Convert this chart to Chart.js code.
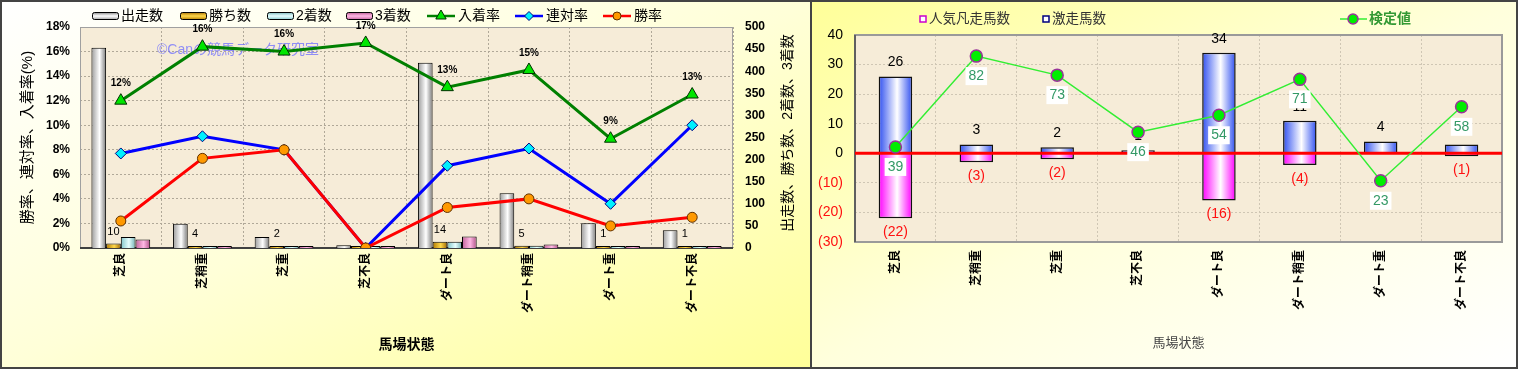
<!DOCTYPE html>
<html lang="ja">
<head>
<meta charset="utf-8">
<title>馬場状態別成績</title>
<script src="https://cdn.jsdelivr.net/npm/chart.js@4.4.1/dist/chart.umd.min.js"></script>
<style>
  html, body { margin: 0; padding: 0; background: #fff; }
  body { width: 1518px; height: 369px; position: relative; overflow: hidden; }
  .panel { position: absolute; top: 0; height: 369px; box-sizing: border-box; border: 2px solid #444; }
  #leftPanel  { left: 0; width: 812px; background: linear-gradient(to bottom right, #ffffff 0%, #ffffd8 50%, #ffff99 100%); }
  #rightPanel { left: 810px; width: 708px; background: linear-gradient(to bottom right, #ffff99 0%, #ffffdc 50%, #ffffff 100%); }
  canvas { display: block; }
</style>
</head>
<body>
<div class="panel" id="leftPanel"><canvas id="runChart" width="808" height="365"></canvas></div>
<div class="panel" id="rightPanel"><canvas id="testChart" width="704" height="365"></canvas></div>
<script>
/* ── data ── */
const tracks = ['芝良', '芝稍重', '芝重', '芝不良', 'ダート良', 'ダート稍重', 'ダート重', 'ダート不良'];

// left chart: counts (right axis) and rates in % (left axis)
const runs   = [453, 55, 25, 6, 419, 124, 56, 40];
const wins   = [10, 4, 2, 0, 14, 5, 1, 1];
const second = [25, 1, 0, 0, 14, 5, 1, 3];
const third  = [19, 4, 2, 1, 26, 8, 3, 1];
const placeRate    = [12.0, 16.4, 16.0, 16.7, 13.1, 14.5, 8.9, 12.5];
const quinellaRate = [7.7, 9.1, 8.0, 0, 6.7, 8.1, 3.6, 10.0];
const winRate      = [2.2, 7.3, 8.0, 0, 3.3, 4.0, 1.8, 2.5];
const rateTicks  = [0, 2, 4, 6, 8, 10, 12, 14, 16, 18];
const countTicks = [0, 50, 100, 150, 200, 250, 300, 350, 400, 450, 500];

// right chart
const popularFail = [-22, -3, -2, 0, -16, -4, 0, -1];
const surprise    = [26, 3, 2, 1, 34, 11, 4, 3];
const testValue   = [39, 82, 73, 46, 54, 71, 23, 58];
const diffTicks   = [-30, -20, -10, 0, 10, 20, 30, 40];

/* ── common ── */
const FONT = '"Liberation Sans", "Noto Sans CJK JP", sans-serif';
Chart.defaults.font.family = FONT;
Chart.defaults.color = '#000';
const GRID = '#b0a898';

const silver  = ['#9a9a9a', '#ffffff', '#7a7a7a'];
const gold    = ['#b07800', '#ffd84a', '#a06800'];
const aqua    = ['#80c4c8', '#e8ffff', '#70b0b4'];
const pink    = ['#c0609a', '#ffb8e4', '#b05088'];
const blueBar = ['#3050f0', '#ffffff', '#3050f0'];
const magBar  = ['#ff00ff', '#ffffff', '#ff00ff'];

function hGrad(ctx, left, w, stops) {
  const g = ctx.createLinearGradient(left, 0, left + w, 0);
  g.addColorStop(0, stops[0]);
  g.addColorStop(0.55, stops[1]);
  g.addColorStop(1, stops[2]);
  return g;
}

// horizontal gradient per bar, position worked out from the x scale
function barFill(stops, slotCount, slot) {
  return c => {
    const chart = c.chart, x = chart.scales.x;
    if (c.type !== 'data' || !x || !chart.chartArea) return stops[1];
    const ds = chart.options.datasets.bar;
    const cat = x.width / chart.data.labels.length;
    const center = x.getPixelForValue(c.dataIndex);
    let left, w;
    if (slotCount) {
      const group = cat * ds.categoryPercentage;
      w = group / slotCount * ds.barPercentage;
      left = center - group / 2 + group / slotCount * slot;
    } else {
      w = cat * ds.categoryPercentage * ds.barPercentage;
      left = center - w / 2;
    }
    return hGrad(chart.ctx, left, w, stops);
  };
}

function tickList(arr) {
  return s => { s.ticks = arr.map(v => ({ value: v })); };
}

function drawText(ctx, txt, x, y, font, color, align) {
  ctx.font = font;
  ctx.fillStyle = color;
  ctx.textAlign = align || 'center';
  ctx.textBaseline = 'middle';
  ctx.fillText(txt, x, y);
}

/* ── left chart plugin ── */
const runDecor = {
  id: 'runDecor',
  beforeDraw(chart) {
    const { ctx, chartArea: a } = chart;
    ctx.save();
    ctx.fillStyle = '#f6ecd8';
    ctx.fillRect(a.left, a.top, a.width, a.height);
    ctx.restore();
  },
  beforeDatasetsDraw(chart) {
    const { ctx, chartArea: a } = chart;
    ctx.save();
    ctx.strokeStyle = '#a0a0a0'; ctx.lineWidth = 1;
    ctx.strokeRect(a.left + 0.5, a.top + 0.5, a.width - 1, a.height - 1);
    ctx.strokeStyle = '#404040'; ctx.lineWidth = 2;
    ctx.beginPath(); ctx.moveTo(a.left, a.bottom); ctx.lineTo(a.right, a.bottom); ctx.stroke();
    drawText(ctx, '©Canの競馬データ研究室', 155, 48, '14px ' + FONT, 'rgba(110,110,255,0.75)', 'left');
    ctx.restore();
  },
  afterDatasetsDraw(chart) {
    const ctx = chart.ctx;
    ctx.save();
    chart.getDatasetMeta(1).data.forEach((el, i) => {
      if (wins[i] > 0) drawText(ctx, String(wins[i]), el.x, el.y - 12, '11px ' + FONT, '#000');
    });
    chart.getDatasetMeta(4).data.forEach((el, i) => {
      drawText(ctx, Math.round(placeRate[i]) + '%', el.x, el.y - 17, 'bold 10px ' + FONT, '#000');
    });
    ctx.restore();
  },
  afterDraw(chart) {
    const ctx = chart.ctx;
    const lx = [90, 178, 265, 344, 425, 513, 601];
    const ly = 14;
    ctx.save();
    chart.data.datasets.forEach((ds, i) => {
      const x = lx[i];
      if (ds.type === 'line') {
        ctx.strokeStyle = ds.borderColor; ctx.lineWidth = 2.5;
        ctx.beginPath(); ctx.moveTo(x, ly); ctx.lineTo(x + 28, ly); ctx.stroke();
        ctx.fillStyle = ds.pointBackgroundColor; ctx.strokeStyle = ds.pointBorderColor; ctx.lineWidth = 1;
        Chart.helpers.drawPoint(ctx, { pointStyle: ds.pointStyle, radius: ds.pointRadius - 1, borderWidth: 1, rotation: 0 }, x + 14, ly);
        drawText(ctx, ds.label, x + 31, ly, '14px ' + FONT, '#000', 'left');
      } else {
        const g = ctx.createLinearGradient(0, ly - 4, 0, ly + 4);
        g.addColorStop(0, ds.stops[2]); g.addColorStop(0.5, ds.stops[1]); g.addColorStop(1, ds.stops[0]);
        ctx.fillStyle = g; ctx.strokeStyle = '#000'; ctx.lineWidth = 1;
        ctx.beginPath(); ctx.roundRect(x + 0.5, ly - 3.5, 26, 7, 2); ctx.fill(); ctx.stroke();
        drawText(ctx, ds.label, x + 29, ly, '14px ' + FONT, '#000', 'left');
      }
    });
    // right axis title, reading bottom to top
    ctx.translate(786, 131);
    ctx.rotate(-Math.PI / 2);
    drawText(ctx, '出走数、勝ち数、2着数、3着数', 0, 0, '14px ' + FONT, '#000');
    ctx.restore();
  }
};

const barCommon = { yAxisID: 'y1', borderColor: '#000', borderWidth: 1, minBarLength: 2, order: 10 };

new Chart(document.getElementById('runChart'), {
  type: 'bar',
  data: {
    labels: tracks,
    datasets: [
      { ...barCommon, label: '出走数', data: runs,   stops: silver, backgroundColor: barFill(silver, 4, 0) },
      { ...barCommon, label: '勝ち数', data: wins,   stops: gold,   backgroundColor: barFill(gold, 4, 1) },
      { ...barCommon, label: '2着数',  data: second, stops: aqua,   backgroundColor: barFill(aqua, 4, 2) },
      { ...barCommon, label: '3着数',  data: third,  stops: pink,   backgroundColor: barFill(pink, 4, 3) },
      { type: 'line', label: '入着率', data: placeRate, yAxisID: 'y', borderColor: '#008000', borderWidth: 3,
        pointStyle: 'triangle', pointRadius: 7, pointBackgroundColor: '#00e600', pointBorderColor: '#003000', pointBorderWidth: 1, order: 3 },
      { type: 'line', label: '連対率', data: quinellaRate, yAxisID: 'y', borderColor: '#0000ff', borderWidth: 3,
        pointStyle: 'rectRot', pointRadius: 5.5, pointBackgroundColor: '#00f0ff', pointBorderColor: '#000080', pointBorderWidth: 1, order: 2 },
      { type: 'line', label: '勝率', data: winRate, yAxisID: 'y', borderColor: '#ff0000', borderWidth: 3,
        pointStyle: 'circle', pointRadius: 5, pointBackgroundColor: '#ff9900', pointBorderColor: '#603000', pointBorderWidth: 1, order: 1 }
    ]
  },
  options: {
    responsive: false,
    animation: false,
    layout: { padding: { top: 25, left: 0, right: 0, bottom: 0 } },
    datasets: { bar: { categoryPercentage: 0.72, barPercentage: 1 } },
    plugins: { legend: { display: false }, tooltip: { enabled: false } },
    scales: {
      x: {
        grid: { color: GRID, offset: true, drawTicks: false },
        border: { display: false, dash: [2, 2] },
        ticks: { minRotation: 90, maxRotation: 90, autoSkip: false, padding: 5, font: { size: 12, weight: 'bold' } },
        title: { display: true, text: '馬場状態', font: { size: 14, weight: 'bold' }, padding: { top: 0, bottom: 13 } },
        afterFit: s => { s.height = 119; }
      },
      y: {
        position: 'left', min: 0, max: 18,
        afterBuildTicks: tickList(rateTicks),
        grid: { color: GRID, drawTicks: false },
        border: { display: false, dash: [2, 2] },
        ticks: { padding: 10, callback: v => v + '%', font: { size: 12, weight: 'bold' } },
        title: { display: true, text: '勝率、連対率、入着率(%)', font: { size: 15 }, padding: { top: 17, bottom: 0 } },
        afterFit: s => { s.width = 78; }
      },
      y1: {
        position: 'right', min: 0, max: 500,
        afterBuildTicks: tickList(countTicks),
        grid: { display: false, drawTicks: false },
        border: { display: false },
        ticks: { padding: 12, font: { size: 12, weight: 'bold' } },
        afterFit: s => { s.width = 77; }
      }
    }
  },
  plugins: [runDecor]
});

/* ── right chart plugin ── */
const testDecor = {
  id: 'testDecor',
  beforeDraw(chart) {
    const { ctx, chartArea: a } = chart;
    ctx.save();
    ctx.fillStyle = '#f6ecd8';
    ctx.fillRect(a.left, a.top, a.width, a.height);
    ctx.restore();
  },
  beforeDatasetsDraw(chart) {
    const { ctx, chartArea: a } = chart;
    ctx.save();
    ctx.strokeStyle = '#9a9a9a'; ctx.lineWidth = 2;
    ctx.strokeRect(a.left, a.top, a.width, a.height);
    ctx.strokeStyle = '#606060';
    ctx.beginPath(); ctx.moveTo(a.left, a.top); ctx.lineTo(a.left, a.bottom); ctx.stroke();
    ctx.restore();
  },
  beforeDatasetDraw(chart, args) {
    if (args.meta.type !== 'line') return;
    const { ctx, chartArea: a, scales } = chart;
    ctx.save();
    chart.getDatasetMeta(1).data.forEach((el, i) => {
      if (surprise[i] > 0) drawText(ctx, String(surprise[i]), el.x, el.y - 14, '14px ' + FONT, '#000');
    });
    chart.getDatasetMeta(0).data.forEach((el, i) => {
      if (popularFail[i] < 0) drawText(ctx, '(' + (-popularFail[i]) + ')', el.x, el.y + 14, '14px ' + FONT, '#ff1010');
    });
    const y0 = scales.y.getPixelForValue(0);
    ctx.strokeStyle = '#ff0000'; ctx.lineWidth = 3;
    ctx.beginPath(); ctx.moveTo(a.left, y0); ctx.lineTo(a.right, y0); ctx.stroke();
    ctx.restore();
  },
  afterDatasetsDraw(chart) {
    const ctx = chart.ctx;
    ctx.save();
    ctx.font = '14px ' + FONT;
    chart.getDatasetMeta(2).data.forEach((el, i) => {
      const t = String(testValue[i]);
      const w = ctx.measureText(t).width + 6;
      ctx.fillStyle = '#ffffff';
      ctx.fillRect(el.x - w / 2, el.y + 11, w, 18);
      drawText(ctx, t, el.x, el.y + 20, '14px ' + FONT, '#339966');
    });
    ctx.restore();
  },
  afterDraw(chart) {
    const ctx = chart.ctx;
    const ly = 17;
    const items = chart.data.datasets;
    const lx = [108, 231, 528];
    ctx.save();
    items.forEach((ds, i) => {
      const x = lx[i];
      if (ds.type === 'line') {
        ctx.strokeStyle = ds.borderColor; ctx.lineWidth = 1.5;
        ctx.beginPath(); ctx.moveTo(x, ly); ctx.lineTo(x + 27, ly); ctx.stroke();
        ctx.fillStyle = ds.pointBackgroundColor; ctx.strokeStyle = ds.pointBorderColor; ctx.lineWidth = 1.5;
        ctx.beginPath(); ctx.arc(x + 13, ly, 5, 0, Math.PI * 2); ctx.fill(); ctx.stroke();
        drawText(ctx, ds.label, x + 29, ly, 'bold 14px ' + FONT, '#339933', 'left');
      } else {
        ctx.fillStyle = '#ffffff'; ctx.strokeStyle = ds.legendColor; ctx.lineWidth = 1.5;
        ctx.fillRect(x, ly - 3, 6, 6); ctx.strokeRect(x, ly - 3, 6, 6);
        drawText(ctx, ds.label, x + 9, ly, '13.5px ' + FONT, '#333', 'left');
      }
    });
    ctx.restore();
  }
};

new Chart(document.getElementById('testChart'), {
  type: 'bar',
  data: {
    labels: tracks,
    datasets: [
      { label: '人気凡走馬数', data: popularFail, legendColor: '#cc00cc', backgroundColor: barFill(magBar, 0, 0),
        borderColor: '#111', borderWidth: 1.5, grouped: false, order: 2 },
      { label: '激走馬数', data: surprise, legendColor: '#000080', backgroundColor: barFill(blueBar, 0, 0),
        borderColor: '#111', borderWidth: 1.5, grouped: false, order: 2 },
      { type: 'line', label: '検定値', data: testValue, yAxisID: 'y2', borderColor: '#33ee33', borderWidth: 1.5,
        pointRadius: 6, pointBackgroundColor: '#00ee00', pointBorderColor: '#993399', pointBorderWidth: 1.5, order: 1 }
    ]
  },
  options: {
    responsive: false,
    animation: false,
    layout: { padding: { top: 33, left: 0, right: 14, bottom: 0 } },
    datasets: { bar: { categoryPercentage: 1, barPercentage: 0.414 } },
    plugins: { legend: { display: false }, tooltip: { enabled: false } },
    scales: {
      x: {
        grid: { color: '#cfc6b4', offset: true, drawTicks: false },
        border: { display: false, dash: [2, 2] },
        ticks: { minRotation: 90, maxRotation: 90, autoSkip: false, padding: 8, font: { size: 12, weight: 'bold' } },
        title: { display: true, text: '馬場状態', color: '#444', font: { size: 13 }, padding: { top: 0, bottom: 16 } },
        afterFit: s => { s.height = 125; }
      },
      y: {
        min: -30, max: 40,
        afterBuildTicks: tickList(diffTicks),
        grid: { color: '#cfc6b4', drawTicks: false },
        border: { display: false, dash: [2, 2] },
        ticks: {
          padding: 12, font: { size: 14 },
          color: c => c.tick.value < 0 ? '#ff1010' : '#000',
          callback: v => v < 0 ? '(' + (-v) + ')' : String(v)
        },
        afterFit: s => { s.width = 43; }
      },
      y2: { display: false, min: -6, max: 92 }
    }
  },
  plugins: [testDecor]
});
</script>
</body>
</html>
